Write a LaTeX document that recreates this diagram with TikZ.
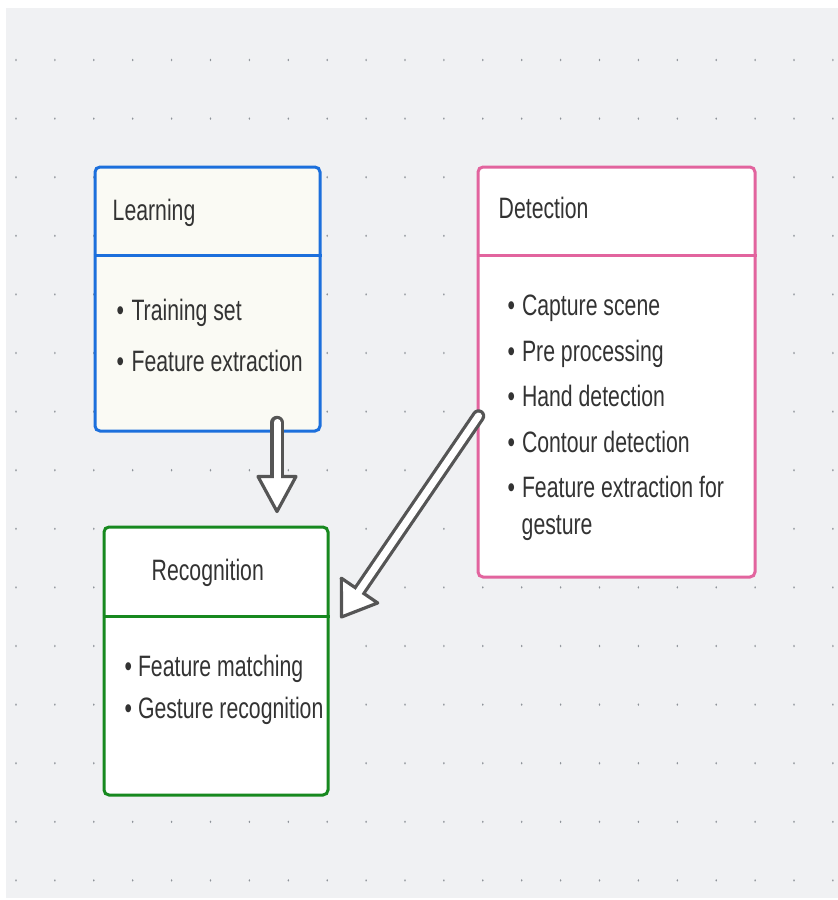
\documentclass[tikz,border=0pt]{standalone}
\usepackage{fontspec}
\setmainfont{Liberation Sans}[FakeStretch=0.72]
\usetikzlibrary{calc}

\definecolor{canvas}{HTML}{F0F1F3}
\definecolor{griddot}{HTML}{8E9399}
\definecolor{lrnblue}{HTML}{1C6FDC}
\definecolor{detpink}{HTML}{E2649E}
\definecolor{recgreen}{HTML}{17891F}
\definecolor{cream}{HTML}{FAFAF4}
\definecolor{inktext}{HTML}{333333}
\definecolor{arrowgray}{HTML}{555555}

\begin{document}
\begin{tikzpicture}[
    x = 1pt, y = -1pt,
    box/.style   = {draw, rounded corners = 5pt, line width = 3pt, fill = white},
    title/.style = {anchor = base west, inner sep = 0pt, text = inktext,
                    font = \fontsize{29.5}{36}\selectfont},
    item/.style  = {title}
]

% Canvas and dot grid
\useasboundingbox (0,0) rectangle (838,900);
\fill[white]  (0,0) rectangle (838,900);
\fill[canvas] (6,8) rectangle (838,898);
\foreach \i in {0,...,21}
    \foreach \j in {0,...,14}
        \fill[griddot] ({16+38.9*\i},{60+58.6*\j}) ellipse [x radius = 0.8, y radius = 1.3];

% Boxes
\node[box, draw = lrnblue, fill = cream, minimum width = 225pt, minimum height = 264pt] (lrn) at (207.5,299) {};
\node[box, draw = detpink, minimum width = 277pt, minimum height = 410pt] (det) at (616.5,372) {};
\node[box, draw = recgreen, minimum width = 224pt, minimum height = 268pt] (rec) at (216,661) {};

% Dividers
\draw[lrnblue, line width = 3pt]  ($(lrn.north west)+(0,90)$) -- ($(lrn.north east)+(0,90)$);
\draw[detpink, line width = 3pt]  ($(det.north west)+(0,90)$) -- ($(det.north east)+(0,90)$);
\draw[recgreen, line width = 3pt] ($(rec.north west)+(0,91)$) -- ($(rec.north east)+(0,91)$);

% Titles
\node[title] (lrnTitle) at ($(lrn.north west)+(19,55)$) {Learning};
\node[title] (detTitle) at ($(det.north west)+(22,53)$) {Detection};
\node[title] (recTitle) at ($(rec.north west)+(49,55)$) {Recognition};

% Items
\node[item] (lrnA) at ($(lrn.north west)+(23,155)$) {•\hspace{1.5pt} Training set};
\node[item] (lrnB) at ($(lrn.north west)+(23,206)$) {•\hspace{1.5pt} Feature extraction};

\node[item] (detA) at ($(det.north west)+(31,150)$) {•\hspace{1pt} Capture scene};
\node[item] (detB) at ($(det.north west)+(31,195.5)$) {•\hspace{1pt} Pre processing};
\node[item] (detC) at ($(det.north west)+(31,241)$) {•\hspace{1pt} Hand detection};
\node[item] (detD) at ($(det.north west)+(31,286.5)$) {•\hspace{1pt} Contour detection};
\node[item] (detE) at ($(det.north west)+(31,332)$) {•\hspace{1pt} Feature extraction for};
\node[item] (detF) at ($(det.north west)+(45,369)$) {gesture};

\node[item] (recA) at ($(rec.north west)+(22,151)$) {• Feature matching};
\node[item] (recB) at ($(rec.north west)+(22,193)$) {• Gesture recognition};

% Hollow arrows
\coordinate (lrnOut) at ($(lrn.south)+(69.5,-10)$);
\coordinate (recInA) at ($(rec.north)+(61,-14)$);
\coordinate (detOut) at ($(det.west)+(2,44)$);
\coordinate (recInB) at ($(rec.east)+(12,-44)$);

\foreach \src/\dst/\hl/\hw in {lrnOut/recInA/35/19, detOut/recInB/32/22} {
    \coordinate (hb) at ($(\dst)!\hl pt!(\src)$);
    \draw[arrowgray, line width = 13.5pt, line cap = round] (\src) -- (hb);
    \filldraw[fill = white, draw = arrowgray, line width = 3.2pt, line join = round]
        ($(hb)!\hw pt!90:(\dst)$) -- (\dst) -- ($(hb)!\hw pt!-90:(\dst)$) -- cycle;
    \draw[white, line width = 7pt, line cap = round] (\src) -- ($(hb)!2pt!(\dst)$);
}

\end{tikzpicture}
\end{document}
